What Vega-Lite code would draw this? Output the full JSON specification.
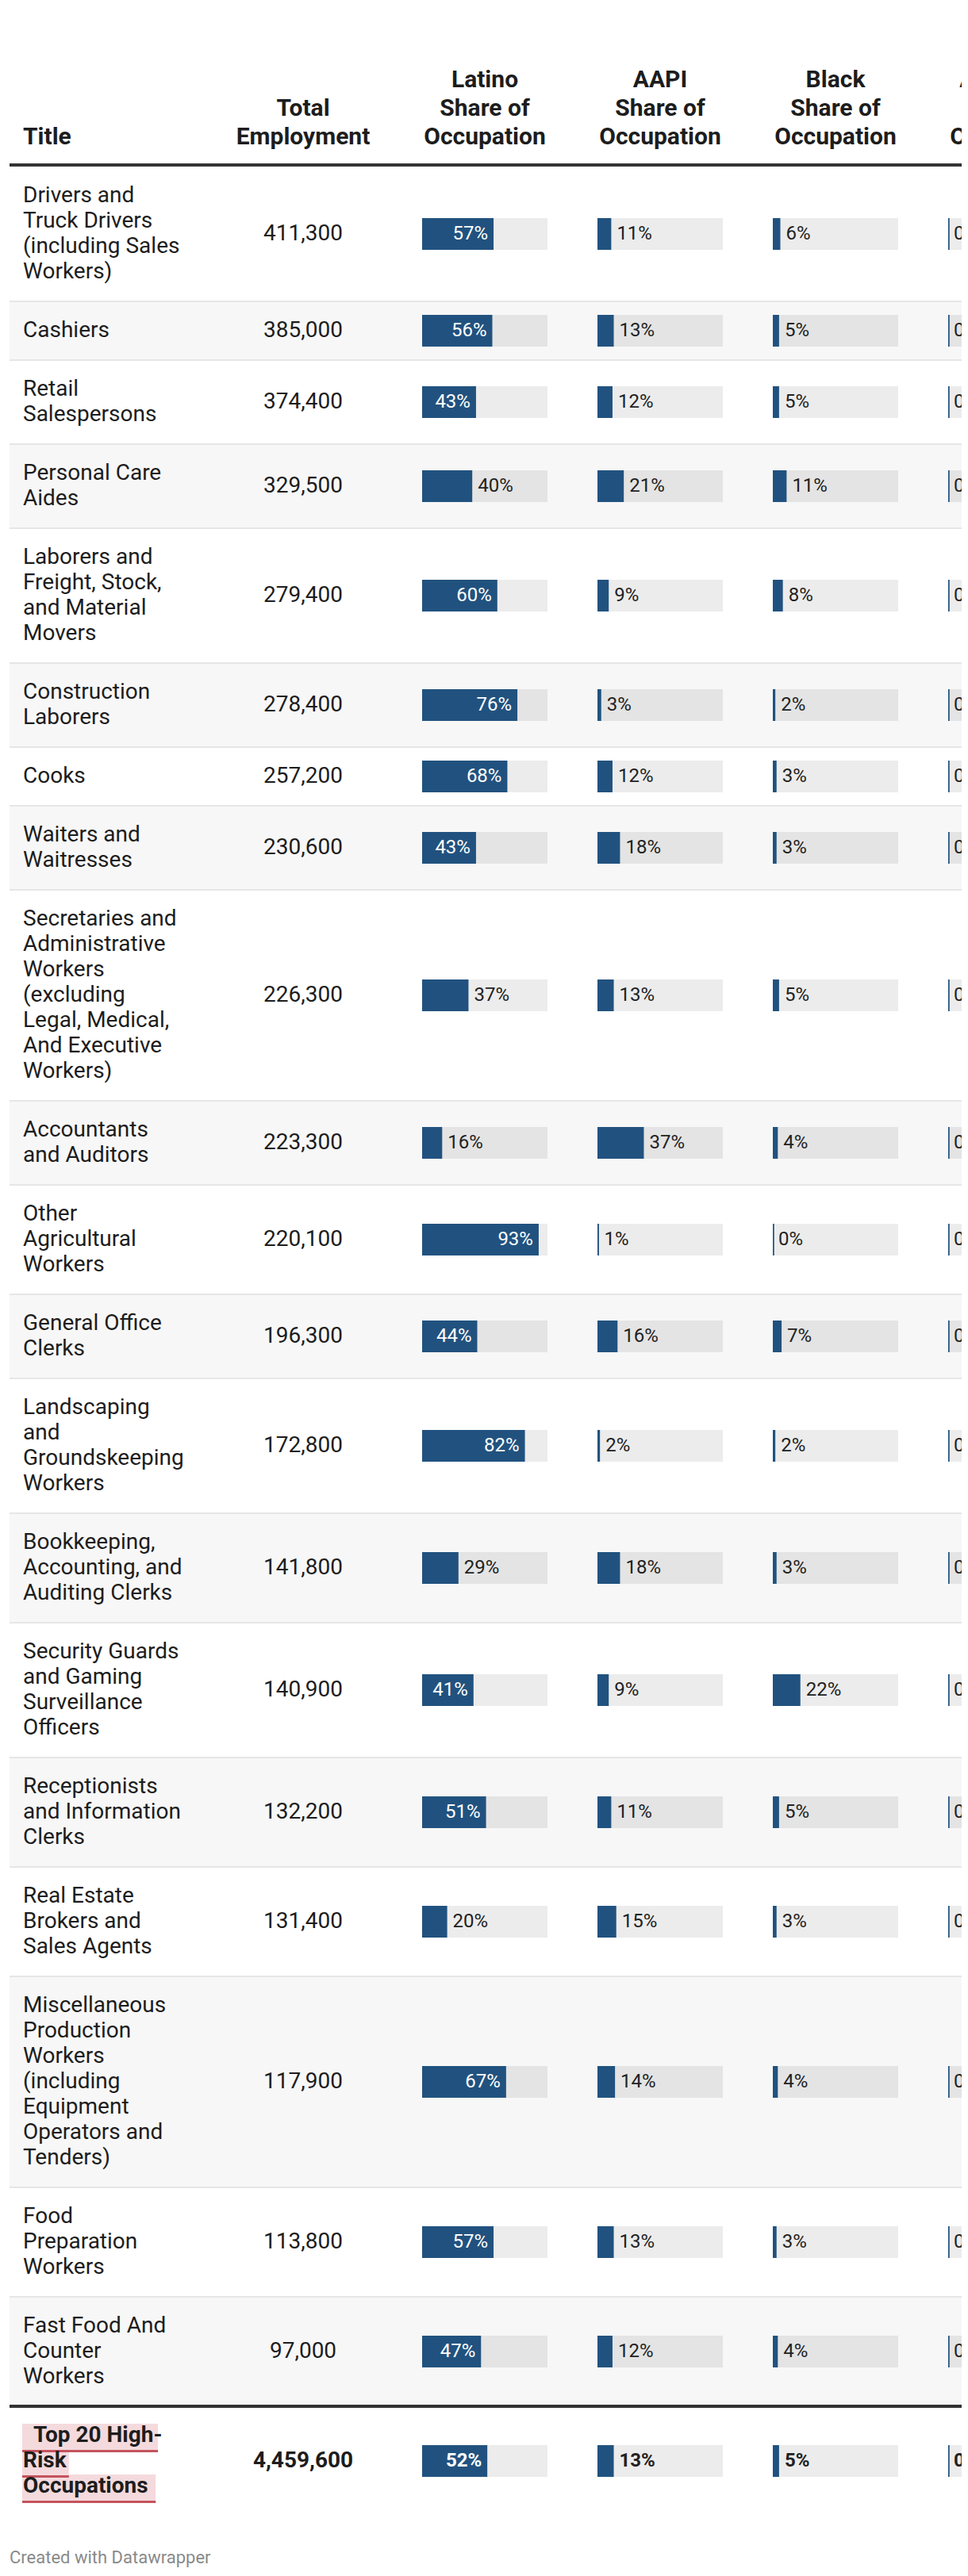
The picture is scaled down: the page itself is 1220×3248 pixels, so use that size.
{
  "$schema": "https://vega.github.io/schema/vega-lite/v6.json",
  "padding": {"left": 10, "top": 0, "right": 0, "bottom": 0},
  "background": "white",
  "spacing": 0,
  "bounds": "flush",
  "config": {"view": {"stroke": null}, "font": "Roboto", "text": {"font": "Roboto"}},
  "data": {"values": [
    {"i": 1, "title": ["Drivers and", "Truck Drivers", "(including Sales", "Workers)"], "emp": 411300, "latino": 0.57, "aapi": 0.11, "black": 0.06, "aian": 0},
    {"i": 2, "title": ["Cashiers"], "emp": 385000, "latino": 0.56, "aapi": 0.13, "black": 0.05, "aian": 0},
    {"i": 3, "title": ["Retail", "Salespersons"], "emp": 374400, "latino": 0.43, "aapi": 0.12, "black": 0.05, "aian": 0},
    {"i": 4, "title": ["Personal Care", "Aides"], "emp": 329500, "latino": 0.40, "aapi": 0.21, "black": 0.11, "aian": 0},
    {"i": 5, "title": ["Laborers and", "Freight, Stock,", "and Material", "Movers"], "emp": 279400, "latino": 0.60, "aapi": 0.09, "black": 0.08, "aian": 0},
    {"i": 6, "title": ["Construction", "Laborers"], "emp": 278400, "latino": 0.76, "aapi": 0.03, "black": 0.02, "aian": 0},
    {"i": 7, "title": ["Cooks"], "emp": 257200, "latino": 0.68, "aapi": 0.12, "black": 0.03, "aian": 0},
    {"i": 8, "title": ["Waiters and", "Waitresses"], "emp": 230600, "latino": 0.43, "aapi": 0.18, "black": 0.03, "aian": 0},
    {"i": 9, "title": ["Secretaries and", "Administrative", "Workers", "(excluding", "Legal, Medical,", "And Executive", "Workers)"], "emp": 226300, "latino": 0.37, "aapi": 0.13, "black": 0.05, "aian": 0},
    {"i": 10, "title": ["Accountants", "and Auditors"], "emp": 223300, "latino": 0.16, "aapi": 0.37, "black": 0.04, "aian": 0},
    {"i": 11, "title": ["Other", "Agricultural", "Workers"], "emp": 220100, "latino": 0.93, "aapi": 0.01, "black": 0.0, "aian": 0},
    {"i": 12, "title": ["General Office", "Clerks"], "emp": 196300, "latino": 0.44, "aapi": 0.16, "black": 0.07, "aian": 0},
    {"i": 13, "title": ["Landscaping", "and", "Groundskeeping", "Workers"], "emp": 172800, "latino": 0.82, "aapi": 0.02, "black": 0.02, "aian": 0},
    {"i": 14, "title": ["Bookkeeping,", "Accounting, and", "Auditing Clerks"], "emp": 141800, "latino": 0.29, "aapi": 0.18, "black": 0.03, "aian": 0},
    {"i": 15, "title": ["Security Guards", "and Gaming", "Surveillance", "Officers"], "emp": 140900, "latino": 0.41, "aapi": 0.09, "black": 0.22, "aian": 0},
    {"i": 16, "title": ["Receptionists", "and Information", "Clerks"], "emp": 132200, "latino": 0.51, "aapi": 0.11, "black": 0.05, "aian": 0},
    {"i": 17, "title": ["Real Estate", "Brokers and", "Sales Agents"], "emp": 131400, "latino": 0.20, "aapi": 0.15, "black": 0.03, "aian": 0},
    {"i": 18, "title": ["Miscellaneous", "Production", "Workers", "(including", "Equipment", "Operators and", "Tenders)"], "emp": 117900, "latino": 0.67, "aapi": 0.14, "black": 0.04, "aian": 0},
    {"i": 19, "title": ["Food", "Preparation", "Workers"], "emp": 113800, "latino": 0.57, "aapi": 0.13, "black": 0.03, "aian": 0},
    {"i": 20, "title": ["Fast Food And", "Counter", "Workers"], "emp": 97000, "latino": 0.47, "aapi": 0.12, "black": 0.04, "aian": 0},
    {"i": 21, "title": ["Top 20 High-", "Risk", "Occupations"], "emp": 4459600, "latino": 0.52, "aapi": 0.13, "black": 0.05, "aian": 0}
  ]},
  "transform": [
    {"calculate": "length(datum.title)", "as": "n"},
    {"calculate": "42 + 32 * datum.n", "as": "h"},
    {"window": [{"op": "sum", "field": "h", "as": "cum"}], "sort": [{"field": "i"}], "frame": [null, 0]},
    {"calculate": "datum.cum - datum.h", "as": "y0"},
    {"calculate": "datum.cum", "as": "y1"},
    {"calculate": "datum.y0 - 2", "as": "ytop"},
    {"calculate": "datum.y0 + datum.h / 2", "as": "yc"},
    {"calculate": "datum.yc - (datum.n - 1) * 16", "as": "ty"},
    {"calculate": "datum.yc - 20", "as": "bt"},
    {"calculate": "datum.yc + 20", "as": "bb"},
    {"calculate": "0", "as": "b0"},
    {"calculate": "1", "as": "b1"},
    {"calculate": "0.011", "as": "bmin"}
  ],
  "hconcat": [
    {
      "width": 280, "height": 3248,
      "layer": [
        {"transform": [{"filter": "datum.i % 2 == 0 && datum.i <= 20"}], "mark": {"type": "rect", "color": "#f7f7f7"}, "encoding": {"x": {"value": 0}, "x2": {"value": "width"}, "y": {"field": "y0", "type": "quantitative", "scale": {"domain": [-210, 3038], "reverse": true, "nice": false, "zero": false}, "axis": null}, "y2": {"field": "y1"}}},
        {"transform": [{"filter": "datum.i >= 2 && datum.i <= 20"}], "mark": {"type": "rule", "color": "#e6e6e6", "strokeWidth": 2}, "encoding": {"x": {"value": 0}, "x2": {"value": "width"}, "y": {"field": "y0", "type": "quantitative", "scale": {"domain": [-210, 3038], "reverse": true, "nice": false, "zero": false}, "axis": null}}},
        {"transform": [{"filter": "datum.i == 1"}], "mark": {"type": "rule", "color": "#333333", "strokeWidth": 4}, "encoding": {"x": {"value": 0}, "x2": {"value": "width"}, "y": {"field": "ytop", "type": "quantitative", "scale": {"domain": [-210, 3038], "reverse": true, "nice": false, "zero": false}, "axis": null}}},
        {"transform": [{"filter": "datum.i == 21"}], "mark": {"type": "rule", "color": "#333333", "strokeWidth": 4}, "encoding": {"x": {"value": 0}, "x2": {"value": "width"}, "y": {"field": "y0", "type": "quantitative", "scale": {"domain": [-210, 3038], "reverse": true, "nice": false, "zero": false}, "axis": null}}},
        {"transform": [{"filter": "datum.i <= 20"}], "mark": {"type": "text", "align": "left", "baseline": "middle", "fontSize": 28, "lineHeight": 32, "color": "#1d1d1d", "font": "Roboto"}, "encoding": {"text": {"field": "title", "type": "nominal"}, "x": {"value": 17}, "y": {"field": "ty", "type": "quantitative", "scale": {"domain": [-210, 3038], "reverse": true, "nice": false, "zero": false}, "axis": null}}},
        {"transform": [{"filter": "datum.i == 21"}, {"flatten": ["title"], "as": ["line"]}, {"window": [{"op": "row_number", "as": "k"}]},
           {"calculate": "datum.yc + (datum.k - (datum.n + 1) / 2) * 32", "as": "ly"},
           {"calculate": "datum.ly - 15", "as": "hy0"}, {"calculate": "datum.hy0 + 36", "as": "hy1"}, {"calculate": "datum.hy1 - 3", "as": "uy0"},
           {"calculate": "16", "as": "hx0"},
           {"calculate": "datum.k == 1 ? 30 : 17", "as": "tx"},
           {"calculate": "length(split(datum.line, ' ')) - 1", "as": "sp"},
           {"calculate": "datum.tx + 14.2 * (length(datum.line) - datum.sp) + 7 * datum.sp + (datum.k == datum.n ? 11 : 1)", "as": "hx1"}],
         "layer": [
           {"mark": {"type": "rect", "color": "#f4dadd"}, "encoding": {"x": {"field": "hx0", "type": "quantitative", "scale": {"domain": [0, 280], "nice": false, "zero": false}, "axis": null}, "x2": {"field": "hx1"}, "y": {"field": "hy0", "type": "quantitative", "scale": {"domain": [-210, 3038], "reverse": true, "nice": false, "zero": false}, "axis": null}, "y2": {"field": "hy1"}}},
           {"mark": {"type": "rect", "color": "#c4535d"}, "encoding": {"x": {"field": "hx0", "type": "quantitative", "scale": {"domain": [0, 280], "nice": false, "zero": false}, "axis": null}, "x2": {"field": "hx1"}, "y": {"field": "uy0", "type": "quantitative", "scale": {"domain": [-210, 3038], "reverse": true, "nice": false, "zero": false}, "axis": null}, "y2": {"field": "hy1"}}},
           {"mark": {"type": "text", "align": "left", "baseline": "middle", "fontSize": 28, "fontWeight": "bold", "color": "#1d1d1d", "font": "Roboto"}, "encoding": {"text": {"field": "line", "type": "nominal"}, "x": {"field": "tx", "type": "quantitative", "scale": {"domain": [0, 280], "nice": false, "zero": false}, "axis": null}, "y": {"field": "ly", "type": "quantitative", "scale": {"domain": [-210, 3038], "reverse": true, "nice": false, "zero": false}, "axis": null}}}
         ]},
        {"data": {"values": [{"hdr": "Title", "hy": -37}]}, "mark": {"type": "text", "align": "left", "baseline": "middle", "fontSize": 30, "fontWeight": "bold", "color": "#1d1d1d", "font": "Roboto"}, "encoding": {"text": {"field": "hdr", "type": "nominal"}, "x": {"value": 17}, "y": {"field": "hy", "type": "quantitative", "scale": {"domain": [-210, 3038], "reverse": true, "nice": false, "zero": false}, "axis": null}}},
        {"data": {"values": [{"note": "Created with Datawrapper", "ny": 3015}]}, "mark": {"type": "text", "align": "left", "baseline": "middle", "fontSize": 22, "color": "#8a8a8a", "font": "Roboto"}, "encoding": {"text": {"field": "note", "type": "nominal"}, "x": {"value": 0}, "y": {"field": "ny", "type": "quantitative", "scale": {"domain": [-210, 3038], "reverse": true, "nice": false, "zero": false}, "axis": null}}}
      ]
    },
    {
      "width": 180, "height": 3248,
      "layer": [
        {"transform": [{"filter": "datum.i % 2 == 0 && datum.i <= 20"}], "mark": {"type": "rect", "color": "#f7f7f7"}, "encoding": {"x": {"value": 0}, "x2": {"value": "width"}, "y": {"field": "y0", "type": "quantitative", "scale": {"domain": [-210, 3038], "reverse": true, "nice": false, "zero": false}, "axis": null}, "y2": {"field": "y1"}}},
        {"transform": [{"filter": "datum.i >= 2 && datum.i <= 20"}], "mark": {"type": "rule", "color": "#e6e6e6", "strokeWidth": 2}, "encoding": {"x": {"value": 0}, "x2": {"value": "width"}, "y": {"field": "y0", "type": "quantitative", "scale": {"domain": [-210, 3038], "reverse": true, "nice": false, "zero": false}, "axis": null}}},
        {"transform": [{"filter": "datum.i == 1"}], "mark": {"type": "rule", "color": "#333333", "strokeWidth": 4}, "encoding": {"x": {"value": 0}, "x2": {"value": "width"}, "y": {"field": "ytop", "type": "quantitative", "scale": {"domain": [-210, 3038], "reverse": true, "nice": false, "zero": false}, "axis": null}}},
        {"transform": [{"filter": "datum.i == 21"}], "mark": {"type": "rule", "color": "#333333", "strokeWidth": 4}, "encoding": {"x": {"value": 0}, "x2": {"value": "width"}, "y": {"field": "y0", "type": "quantitative", "scale": {"domain": [-210, 3038], "reverse": true, "nice": false, "zero": false}, "axis": null}}},
        {"transform": [{"filter": "datum.i <= 20"}], "mark": {"type": "text", "align": "center", "baseline": "middle", "fontSize": 28, "color": "#1d1d1d", "font": "Roboto"}, "encoding": {"text": {"field": "emp", "type": "quantitative", "format": ","}, "x": {"value": 90}, "y": {"field": "yc", "type": "quantitative", "scale": {"domain": [-210, 3038], "reverse": true, "nice": false, "zero": false}, "axis": null}}},
        {"transform": [{"filter": "datum.i == 21"}], "mark": {"type": "text", "align": "center", "baseline": "middle", "fontSize": 28, "fontWeight": "bold", "color": "#1d1d1d", "font": "Roboto"}, "encoding": {"text": {"field": "emp", "type": "quantitative", "format": ","}, "x": {"value": 90}, "y": {"field": "yc", "type": "quantitative", "scale": {"domain": [-210, 3038], "reverse": true, "nice": false, "zero": false}, "axis": null}}},
        {"data": {"values": [{"hdr": ["Total", "Employment"], "hy": -73}]}, "mark": {"type": "text", "align": "center", "baseline": "middle", "fontSize": 30, "lineHeight": 36, "fontWeight": "bold", "color": "#1d1d1d", "font": "Roboto"}, "encoding": {"text": {"field": "hdr", "type": "nominal"}, "x": {"value": 90}, "y": {"field": "hy", "type": "quantitative", "scale": {"domain": [-210, 3038], "reverse": true, "nice": false, "zero": false}, "axis": null}}}
      ]
    },
    {
      "width": 221, "height": 3248,
      "transform": [{"calculate": "datum.latino", "as": "v"}],
      "layer": [
        {"transform": [{"filter": "datum.i % 2 == 0 && datum.i <= 20"}], "mark": {"type": "rect", "color": "#f7f7f7"}, "encoding": {"x": {"value": 0}, "x2": {"value": "width"}, "y": {"field": "y0", "type": "quantitative", "scale": {"domain": [-210, 3038], "reverse": true, "nice": false, "zero": false}, "axis": null}, "y2": {"field": "y1"}}},
        {"transform": [{"filter": "datum.i >= 2 && datum.i <= 20"}], "mark": {"type": "rule", "color": "#e6e6e6", "strokeWidth": 2}, "encoding": {"x": {"value": 0}, "x2": {"value": "width"}, "y": {"field": "y0", "type": "quantitative", "scale": {"domain": [-210, 3038], "reverse": true, "nice": false, "zero": false}, "axis": null}}},
        {"transform": [{"filter": "datum.i == 1"}], "mark": {"type": "rule", "color": "#333333", "strokeWidth": 4}, "encoding": {"x": {"value": 0}, "x2": {"value": "width"}, "y": {"field": "ytop", "type": "quantitative", "scale": {"domain": [-210, 3038], "reverse": true, "nice": false, "zero": false}, "axis": null}}},
        {"transform": [{"filter": "datum.i == 21"}], "mark": {"type": "rule", "color": "#333333", "strokeWidth": 4}, "encoding": {"x": {"value": 0}, "x2": {"value": "width"}, "y": {"field": "y0", "type": "quantitative", "scale": {"domain": [-210, 3038], "reverse": true, "nice": false, "zero": false}, "axis": null}}},
        {"mark": {"type": "rect", "color": "#000000", "opacity": 0.075, "clip": true}, "encoding": {"x": {"field": "b0", "type": "quantitative", "scale": {"domain": [0, 1], "range": [60, 218], "nice": false, "zero": false}, "axis": null}, "x2": {"field": "b1"}, "y": {"field": "bt", "type": "quantitative", "scale": {"domain": [-210, 3038], "reverse": true, "nice": false, "zero": false}, "axis": null}, "y2": {"field": "bb"}}},
        {"mark": {"type": "rect", "color": "#21527f", "clip": true}, "encoding": {"x": {"field": "b0", "type": "quantitative", "scale": {"domain": [0, 1], "range": [60, 218], "nice": false, "zero": false}, "axis": null}, "x2": {"field": "v"}, "y": {"field": "bt", "type": "quantitative", "scale": {"domain": [-210, 3038], "reverse": true, "nice": false, "zero": false}, "axis": null}, "y2": {"field": "bb"}}},
        {"mark": {"type": "rect", "color": "#21527f", "clip": true}, "encoding": {"x": {"field": "b0", "type": "quantitative", "scale": {"domain": [0, 1], "range": [60, 218], "nice": false, "zero": false}, "axis": null}, "x2": {"field": "bmin"}, "y": {"field": "bt", "type": "quantitative", "scale": {"domain": [-210, 3038], "reverse": true, "nice": false, "zero": false}, "axis": null}, "y2": {"field": "bb"}}},
        {"transform": [{"filter": "datum.i <= 20 && datum.v >= 0.41"}], "mark": {"type": "text", "align": "right", "baseline": "middle", "dx": -7, "fontSize": 24, "color": "#ffffff", "font": "Roboto", "clip": true}, "encoding": {"text": {"field": "v", "type": "quantitative", "format": ".0%"}, "x": {"field": "v", "type": "quantitative", "scale": {"domain": [0, 1], "range": [60, 218], "nice": false, "zero": false}, "axis": null}, "y": {"field": "yc", "type": "quantitative", "scale": {"domain": [-210, 3038], "reverse": true, "nice": false, "zero": false}, "axis": null}}},
        {"transform": [{"filter": "datum.i <= 20 && datum.v < 0.41"}], "mark": {"type": "text", "align": "left", "baseline": "middle", "dx": 7, "fontSize": 24, "color": "#222222", "font": "Roboto", "clip": true}, "encoding": {"text": {"field": "v", "type": "quantitative", "format": ".0%"}, "x": {"field": "v", "type": "quantitative", "scale": {"domain": [0, 1], "range": [60, 218], "nice": false, "zero": false}, "axis": null}, "y": {"field": "yc", "type": "quantitative", "scale": {"domain": [-210, 3038], "reverse": true, "nice": false, "zero": false}, "axis": null}}},
        {"transform": [{"filter": "datum.i == 21 && datum.v >= 0.41"}], "mark": {"type": "text", "align": "right", "baseline": "middle", "dx": -7, "fontSize": 24, "fontWeight": "bold", "color": "#ffffff", "font": "Roboto", "clip": true}, "encoding": {"text": {"field": "v", "type": "quantitative", "format": ".0%"}, "x": {"field": "v", "type": "quantitative", "scale": {"domain": [0, 1], "range": [60, 218], "nice": false, "zero": false}, "axis": null}, "y": {"field": "yc", "type": "quantitative", "scale": {"domain": [-210, 3038], "reverse": true, "nice": false, "zero": false}, "axis": null}}},
        {"transform": [{"filter": "datum.i == 21 && datum.v < 0.41"}], "mark": {"type": "text", "align": "left", "baseline": "middle", "dx": 7, "fontSize": 24, "fontWeight": "bold", "color": "#222222", "font": "Roboto", "clip": true}, "encoding": {"text": {"field": "v", "type": "quantitative", "format": ".0%"}, "x": {"field": "v", "type": "quantitative", "scale": {"domain": [0, 1], "range": [60, 218], "nice": false, "zero": false}, "axis": null}, "y": {"field": "yc", "type": "quantitative", "scale": {"domain": [-210, 3038], "reverse": true, "nice": false, "zero": false}, "axis": null}}},
        {"data": {"values": [{"hdr": ["Latino", "Share of", "Occupation"], "hx": 0.5, "hy": -109}]}, "mark": {"type": "text", "align": "center", "baseline": "middle", "fontSize": 30, "lineHeight": 36, "fontWeight": "bold", "color": "#1d1d1d", "font": "Roboto", "clip": true}, "encoding": {"text": {"field": "hdr", "type": "nominal"}, "x": {"field": "hx", "type": "quantitative", "scale": {"domain": [0, 1], "range": [60, 218], "nice": false, "zero": false}, "axis": null}, "y": {"field": "hy", "type": "quantitative", "scale": {"domain": [-210, 3038], "reverse": true, "nice": false, "zero": false}, "axis": null}}}
      ]
    },
    {
      "width": 221, "height": 3248,
      "transform": [{"calculate": "datum.aapi", "as": "v"}],
      "layer": [
        {"transform": [{"filter": "datum.i % 2 == 0 && datum.i <= 20"}], "mark": {"type": "rect", "color": "#f7f7f7"}, "encoding": {"x": {"value": 0}, "x2": {"value": "width"}, "y": {"field": "y0", "type": "quantitative", "scale": {"domain": [-210, 3038], "reverse": true, "nice": false, "zero": false}, "axis": null}, "y2": {"field": "y1"}}},
        {"transform": [{"filter": "datum.i >= 2 && datum.i <= 20"}], "mark": {"type": "rule", "color": "#e6e6e6", "strokeWidth": 2}, "encoding": {"x": {"value": 0}, "x2": {"value": "width"}, "y": {"field": "y0", "type": "quantitative", "scale": {"domain": [-210, 3038], "reverse": true, "nice": false, "zero": false}, "axis": null}}},
        {"transform": [{"filter": "datum.i == 1"}], "mark": {"type": "rule", "color": "#333333", "strokeWidth": 4}, "encoding": {"x": {"value": 0}, "x2": {"value": "width"}, "y": {"field": "ytop", "type": "quantitative", "scale": {"domain": [-210, 3038], "reverse": true, "nice": false, "zero": false}, "axis": null}}},
        {"transform": [{"filter": "datum.i == 21"}], "mark": {"type": "rule", "color": "#333333", "strokeWidth": 4}, "encoding": {"x": {"value": 0}, "x2": {"value": "width"}, "y": {"field": "y0", "type": "quantitative", "scale": {"domain": [-210, 3038], "reverse": true, "nice": false, "zero": false}, "axis": null}}},
        {"mark": {"type": "rect", "color": "#000000", "opacity": 0.075, "clip": true}, "encoding": {"x": {"field": "b0", "type": "quantitative", "scale": {"domain": [0, 1], "range": [60, 218], "nice": false, "zero": false}, "axis": null}, "x2": {"field": "b1"}, "y": {"field": "bt", "type": "quantitative", "scale": {"domain": [-210, 3038], "reverse": true, "nice": false, "zero": false}, "axis": null}, "y2": {"field": "bb"}}},
        {"mark": {"type": "rect", "color": "#21527f", "clip": true}, "encoding": {"x": {"field": "b0", "type": "quantitative", "scale": {"domain": [0, 1], "range": [60, 218], "nice": false, "zero": false}, "axis": null}, "x2": {"field": "v"}, "y": {"field": "bt", "type": "quantitative", "scale": {"domain": [-210, 3038], "reverse": true, "nice": false, "zero": false}, "axis": null}, "y2": {"field": "bb"}}},
        {"mark": {"type": "rect", "color": "#21527f", "clip": true}, "encoding": {"x": {"field": "b0", "type": "quantitative", "scale": {"domain": [0, 1], "range": [60, 218], "nice": false, "zero": false}, "axis": null}, "x2": {"field": "bmin"}, "y": {"field": "bt", "type": "quantitative", "scale": {"domain": [-210, 3038], "reverse": true, "nice": false, "zero": false}, "axis": null}, "y2": {"field": "bb"}}},
        {"transform": [{"filter": "datum.i <= 20 && datum.v >= 0.41"}], "mark": {"type": "text", "align": "right", "baseline": "middle", "dx": -7, "fontSize": 24, "color": "#ffffff", "font": "Roboto", "clip": true}, "encoding": {"text": {"field": "v", "type": "quantitative", "format": ".0%"}, "x": {"field": "v", "type": "quantitative", "scale": {"domain": [0, 1], "range": [60, 218], "nice": false, "zero": false}, "axis": null}, "y": {"field": "yc", "type": "quantitative", "scale": {"domain": [-210, 3038], "reverse": true, "nice": false, "zero": false}, "axis": null}}},
        {"transform": [{"filter": "datum.i <= 20 && datum.v < 0.41"}], "mark": {"type": "text", "align": "left", "baseline": "middle", "dx": 7, "fontSize": 24, "color": "#222222", "font": "Roboto", "clip": true}, "encoding": {"text": {"field": "v", "type": "quantitative", "format": ".0%"}, "x": {"field": "v", "type": "quantitative", "scale": {"domain": [0, 1], "range": [60, 218], "nice": false, "zero": false}, "axis": null}, "y": {"field": "yc", "type": "quantitative", "scale": {"domain": [-210, 3038], "reverse": true, "nice": false, "zero": false}, "axis": null}}},
        {"transform": [{"filter": "datum.i == 21 && datum.v >= 0.41"}], "mark": {"type": "text", "align": "right", "baseline": "middle", "dx": -7, "fontSize": 24, "fontWeight": "bold", "color": "#ffffff", "font": "Roboto", "clip": true}, "encoding": {"text": {"field": "v", "type": "quantitative", "format": ".0%"}, "x": {"field": "v", "type": "quantitative", "scale": {"domain": [0, 1], "range": [60, 218], "nice": false, "zero": false}, "axis": null}, "y": {"field": "yc", "type": "quantitative", "scale": {"domain": [-210, 3038], "reverse": true, "nice": false, "zero": false}, "axis": null}}},
        {"transform": [{"filter": "datum.i == 21 && datum.v < 0.41"}], "mark": {"type": "text", "align": "left", "baseline": "middle", "dx": 7, "fontSize": 24, "fontWeight": "bold", "color": "#222222", "font": "Roboto", "clip": true}, "encoding": {"text": {"field": "v", "type": "quantitative", "format": ".0%"}, "x": {"field": "v", "type": "quantitative", "scale": {"domain": [0, 1], "range": [60, 218], "nice": false, "zero": false}, "axis": null}, "y": {"field": "yc", "type": "quantitative", "scale": {"domain": [-210, 3038], "reverse": true, "nice": false, "zero": false}, "axis": null}}},
        {"data": {"values": [{"hdr": ["AAPI", "Share of", "Occupation"], "hx": 0.5, "hy": -109}]}, "mark": {"type": "text", "align": "center", "baseline": "middle", "fontSize": 30, "lineHeight": 36, "fontWeight": "bold", "color": "#1d1d1d", "font": "Roboto", "clip": true}, "encoding": {"text": {"field": "hdr", "type": "nominal"}, "x": {"field": "hx", "type": "quantitative", "scale": {"domain": [0, 1], "range": [60, 218], "nice": false, "zero": false}, "axis": null}, "y": {"field": "hy", "type": "quantitative", "scale": {"domain": [-210, 3038], "reverse": true, "nice": false, "zero": false}, "axis": null}}}
      ]
    },
    {
      "width": 221, "height": 3248,
      "transform": [{"calculate": "datum.black", "as": "v"}],
      "layer": [
        {"transform": [{"filter": "datum.i % 2 == 0 && datum.i <= 20"}], "mark": {"type": "rect", "color": "#f7f7f7"}, "encoding": {"x": {"value": 0}, "x2": {"value": "width"}, "y": {"field": "y0", "type": "quantitative", "scale": {"domain": [-210, 3038], "reverse": true, "nice": false, "zero": false}, "axis": null}, "y2": {"field": "y1"}}},
        {"transform": [{"filter": "datum.i >= 2 && datum.i <= 20"}], "mark": {"type": "rule", "color": "#e6e6e6", "strokeWidth": 2}, "encoding": {"x": {"value": 0}, "x2": {"value": "width"}, "y": {"field": "y0", "type": "quantitative", "scale": {"domain": [-210, 3038], "reverse": true, "nice": false, "zero": false}, "axis": null}}},
        {"transform": [{"filter": "datum.i == 1"}], "mark": {"type": "rule", "color": "#333333", "strokeWidth": 4}, "encoding": {"x": {"value": 0}, "x2": {"value": "width"}, "y": {"field": "ytop", "type": "quantitative", "scale": {"domain": [-210, 3038], "reverse": true, "nice": false, "zero": false}, "axis": null}}},
        {"transform": [{"filter": "datum.i == 21"}], "mark": {"type": "rule", "color": "#333333", "strokeWidth": 4}, "encoding": {"x": {"value": 0}, "x2": {"value": "width"}, "y": {"field": "y0", "type": "quantitative", "scale": {"domain": [-210, 3038], "reverse": true, "nice": false, "zero": false}, "axis": null}}},
        {"mark": {"type": "rect", "color": "#000000", "opacity": 0.075, "clip": true}, "encoding": {"x": {"field": "b0", "type": "quantitative", "scale": {"domain": [0, 1], "range": [60, 218], "nice": false, "zero": false}, "axis": null}, "x2": {"field": "b1"}, "y": {"field": "bt", "type": "quantitative", "scale": {"domain": [-210, 3038], "reverse": true, "nice": false, "zero": false}, "axis": null}, "y2": {"field": "bb"}}},
        {"mark": {"type": "rect", "color": "#21527f", "clip": true}, "encoding": {"x": {"field": "b0", "type": "quantitative", "scale": {"domain": [0, 1], "range": [60, 218], "nice": false, "zero": false}, "axis": null}, "x2": {"field": "v"}, "y": {"field": "bt", "type": "quantitative", "scale": {"domain": [-210, 3038], "reverse": true, "nice": false, "zero": false}, "axis": null}, "y2": {"field": "bb"}}},
        {"mark": {"type": "rect", "color": "#21527f", "clip": true}, "encoding": {"x": {"field": "b0", "type": "quantitative", "scale": {"domain": [0, 1], "range": [60, 218], "nice": false, "zero": false}, "axis": null}, "x2": {"field": "bmin"}, "y": {"field": "bt", "type": "quantitative", "scale": {"domain": [-210, 3038], "reverse": true, "nice": false, "zero": false}, "axis": null}, "y2": {"field": "bb"}}},
        {"transform": [{"filter": "datum.i <= 20 && datum.v >= 0.41"}], "mark": {"type": "text", "align": "right", "baseline": "middle", "dx": -7, "fontSize": 24, "color": "#ffffff", "font": "Roboto", "clip": true}, "encoding": {"text": {"field": "v", "type": "quantitative", "format": ".0%"}, "x": {"field": "v", "type": "quantitative", "scale": {"domain": [0, 1], "range": [60, 218], "nice": false, "zero": false}, "axis": null}, "y": {"field": "yc", "type": "quantitative", "scale": {"domain": [-210, 3038], "reverse": true, "nice": false, "zero": false}, "axis": null}}},
        {"transform": [{"filter": "datum.i <= 20 && datum.v < 0.41"}], "mark": {"type": "text", "align": "left", "baseline": "middle", "dx": 7, "fontSize": 24, "color": "#222222", "font": "Roboto", "clip": true}, "encoding": {"text": {"field": "v", "type": "quantitative", "format": ".0%"}, "x": {"field": "v", "type": "quantitative", "scale": {"domain": [0, 1], "range": [60, 218], "nice": false, "zero": false}, "axis": null}, "y": {"field": "yc", "type": "quantitative", "scale": {"domain": [-210, 3038], "reverse": true, "nice": false, "zero": false}, "axis": null}}},
        {"transform": [{"filter": "datum.i == 21 && datum.v >= 0.41"}], "mark": {"type": "text", "align": "right", "baseline": "middle", "dx": -7, "fontSize": 24, "fontWeight": "bold", "color": "#ffffff", "font": "Roboto", "clip": true}, "encoding": {"text": {"field": "v", "type": "quantitative", "format": ".0%"}, "x": {"field": "v", "type": "quantitative", "scale": {"domain": [0, 1], "range": [60, 218], "nice": false, "zero": false}, "axis": null}, "y": {"field": "yc", "type": "quantitative", "scale": {"domain": [-210, 3038], "reverse": true, "nice": false, "zero": false}, "axis": null}}},
        {"transform": [{"filter": "datum.i == 21 && datum.v < 0.41"}], "mark": {"type": "text", "align": "left", "baseline": "middle", "dx": 7, "fontSize": 24, "fontWeight": "bold", "color": "#222222", "font": "Roboto", "clip": true}, "encoding": {"text": {"field": "v", "type": "quantitative", "format": ".0%"}, "x": {"field": "v", "type": "quantitative", "scale": {"domain": [0, 1], "range": [60, 218], "nice": false, "zero": false}, "axis": null}, "y": {"field": "yc", "type": "quantitative", "scale": {"domain": [-210, 3038], "reverse": true, "nice": false, "zero": false}, "axis": null}}},
        {"data": {"values": [{"hdr": ["Black", "Share of", "Occupation"], "hx": 0.5, "hy": -109}]}, "mark": {"type": "text", "align": "center", "baseline": "middle", "fontSize": 30, "lineHeight": 36, "fontWeight": "bold", "color": "#1d1d1d", "font": "Roboto", "clip": true}, "encoding": {"text": {"field": "hdr", "type": "nominal"}, "x": {"field": "hx", "type": "quantitative", "scale": {"domain": [0, 1], "range": [60, 218], "nice": false, "zero": false}, "axis": null}, "y": {"field": "hy", "type": "quantitative", "scale": {"domain": [-210, 3038], "reverse": true, "nice": false, "zero": false}, "axis": null}}}
      ]
    },
    {
      "width": 77, "height": 3248,
      "transform": [{"calculate": "datum.aian", "as": "v"}],
      "layer": [
        {"transform": [{"filter": "datum.i % 2 == 0 && datum.i <= 20"}], "mark": {"type": "rect", "color": "#f7f7f7"}, "encoding": {"x": {"value": 0}, "x2": {"value": "width"}, "y": {"field": "y0", "type": "quantitative", "scale": {"domain": [-210, 3038], "reverse": true, "nice": false, "zero": false}, "axis": null}, "y2": {"field": "y1"}}},
        {"transform": [{"filter": "datum.i >= 2 && datum.i <= 20"}], "mark": {"type": "rule", "color": "#e6e6e6", "strokeWidth": 2}, "encoding": {"x": {"value": 0}, "x2": {"value": "width"}, "y": {"field": "y0", "type": "quantitative", "scale": {"domain": [-210, 3038], "reverse": true, "nice": false, "zero": false}, "axis": null}}},
        {"transform": [{"filter": "datum.i == 1"}], "mark": {"type": "rule", "color": "#333333", "strokeWidth": 4}, "encoding": {"x": {"value": 0}, "x2": {"value": "width"}, "y": {"field": "ytop", "type": "quantitative", "scale": {"domain": [-210, 3038], "reverse": true, "nice": false, "zero": false}, "axis": null}}},
        {"transform": [{"filter": "datum.i == 21"}], "mark": {"type": "rule", "color": "#333333", "strokeWidth": 4}, "encoding": {"x": {"value": 0}, "x2": {"value": "width"}, "y": {"field": "y0", "type": "quantitative", "scale": {"domain": [-210, 3038], "reverse": true, "nice": false, "zero": false}, "axis": null}}},
        {"mark": {"type": "rect", "color": "#000000", "opacity": 0.075, "clip": true}, "encoding": {"x": {"field": "b0", "type": "quantitative", "scale": {"domain": [0, 1], "range": [60, 218], "nice": false, "zero": false}, "axis": null}, "x2": {"field": "b1"}, "y": {"field": "bt", "type": "quantitative", "scale": {"domain": [-210, 3038], "reverse": true, "nice": false, "zero": false}, "axis": null}, "y2": {"field": "bb"}}},
        {"mark": {"type": "rect", "color": "#21527f", "clip": true}, "encoding": {"x": {"field": "b0", "type": "quantitative", "scale": {"domain": [0, 1], "range": [60, 218], "nice": false, "zero": false}, "axis": null}, "x2": {"field": "v"}, "y": {"field": "bt", "type": "quantitative", "scale": {"domain": [-210, 3038], "reverse": true, "nice": false, "zero": false}, "axis": null}, "y2": {"field": "bb"}}},
        {"mark": {"type": "rect", "color": "#21527f", "clip": true}, "encoding": {"x": {"field": "b0", "type": "quantitative", "scale": {"domain": [0, 1], "range": [60, 218], "nice": false, "zero": false}, "axis": null}, "x2": {"field": "bmin"}, "y": {"field": "bt", "type": "quantitative", "scale": {"domain": [-210, 3038], "reverse": true, "nice": false, "zero": false}, "axis": null}, "y2": {"field": "bb"}}},
        {"transform": [{"filter": "datum.i <= 20"}], "mark": {"type": "text", "align": "left", "baseline": "middle", "dx": 7, "fontSize": 24, "color": "#222222", "font": "Roboto", "clip": true}, "encoding": {"text": {"field": "v", "type": "quantitative", "format": ".0%"}, "x": {"field": "v", "type": "quantitative", "scale": {"domain": [0, 1], "range": [60, 218], "nice": false, "zero": false}, "axis": null}, "y": {"field": "yc", "type": "quantitative", "scale": {"domain": [-210, 3038], "reverse": true, "nice": false, "zero": false}, "axis": null}}},
        {"transform": [{"filter": "datum.i == 21"}], "mark": {"type": "text", "align": "left", "baseline": "middle", "dx": 7, "fontSize": 24, "fontWeight": "bold", "color": "#222222", "font": "Roboto", "clip": true}, "encoding": {"text": {"field": "v", "type": "quantitative", "format": ".0%"}, "x": {"field": "v", "type": "quantitative", "scale": {"domain": [0, 1], "range": [60, 218], "nice": false, "zero": false}, "axis": null}, "y": {"field": "yc", "type": "quantitative", "scale": {"domain": [-210, 3038], "reverse": true, "nice": false, "zero": false}, "axis": null}}},
        {"data": {"values": [{"hdr": ["American", "Share of", "Occupation"], "hx": 0.5, "hy": -109}]}, "mark": {"type": "text", "align": "center", "baseline": "middle", "fontSize": 30, "lineHeight": 36, "fontWeight": "bold", "color": "#1d1d1d", "font": "Roboto", "clip": true}, "encoding": {"text": {"field": "hdr", "type": "nominal"}, "x": {"field": "hx", "type": "quantitative", "scale": {"domain": [0, 1], "range": [60, 218], "nice": false, "zero": false}, "axis": null}, "y": {"field": "hy", "type": "quantitative", "scale": {"domain": [-210, 3038], "reverse": true, "nice": false, "zero": false}, "axis": null}}}
      ]
    }
  ]
}
